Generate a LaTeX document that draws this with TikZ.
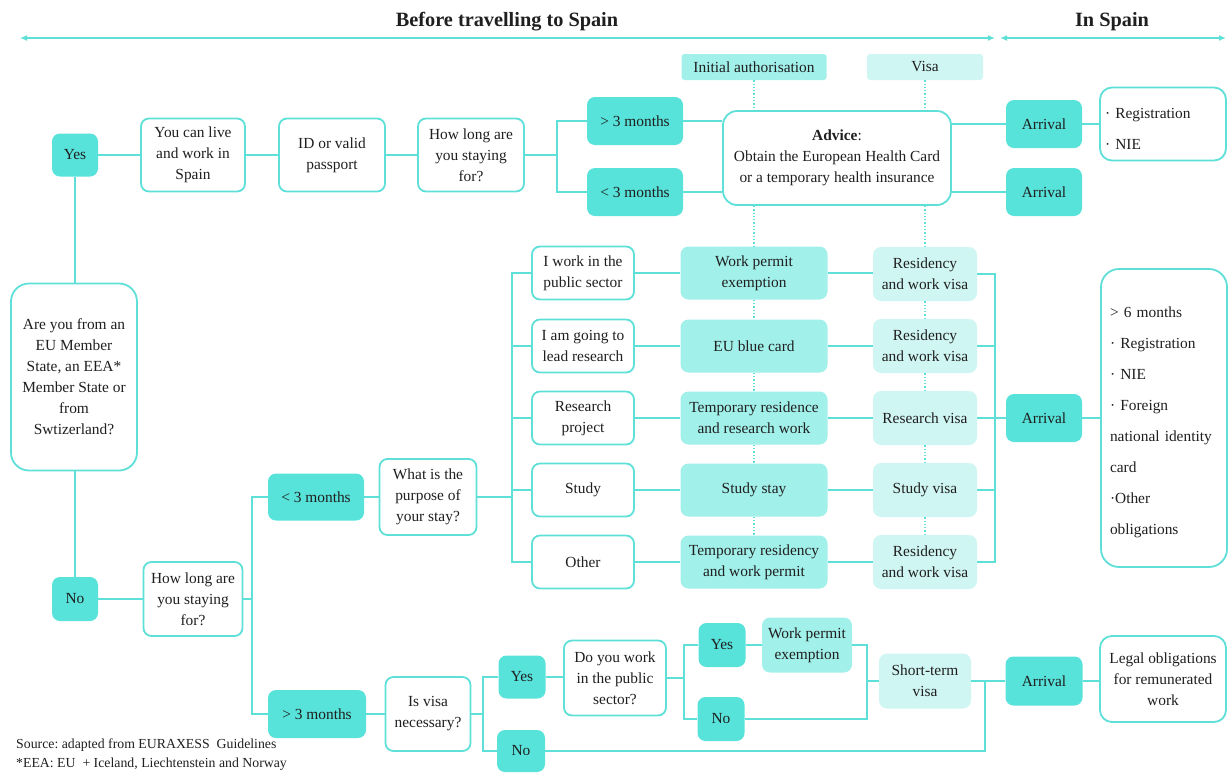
\documentclass[tikz,border=0pt]{standalone}
\usepackage{fontspec}
\setmainfont{Liberation Serif}
\usetikzlibrary{arrows.meta}
\definecolor{tdark}{RGB}{87,226,218}
\definecolor{tmed}{RGB}{162,240,234}
\definecolor{tlight}{RGB}{208,246,243}
\definecolor{tline}{RGB}{94,224,216}
\frenchspacing
\begin{document}
\begin{tikzpicture}[x=1pt,y=-1pt,
 base/.style={rectangle, rounded corners=8pt, align=center, inner sep=0pt, font=\fontsize{15.4}{21}\selectfont, text=black!88},
 wbox/.style={base, draw=tline, line width=1.8pt, fill=white},
 dbox/.style={base, fill=tdark},
 mbox/.style={base, fill=tmed},
 lbox/.style={base, fill=tlight},
 conn/.style={draw=tline, line width=1.8pt},
 dotl/.style={draw=tline, line width=1.3pt, dotted},
 sz/.style 2 args={minimum width=#1pt, minimum height=#2pt},
 hdr/.style={font=\bfseries\fontsize{20.3}{24}\selectfont, text=black!88},
 note/.style={anchor=west, font=\fontsize{13.8}{15}\selectfont, text=black!88, inner sep=0pt},
 tip/.style={{Latex[length=7pt,width=6pt]}-{Latex[length=7pt,width=6pt]}},
]
\useasboundingbox (0,0) rectangle (1228,772);

% headers
\node[hdr] (h1) at (507,22) {Before travelling to Spain};
\node[hdr] (h2) at (1112,22) {In Spain};
\coordinate (a1l) at (20,38);
\coordinate (a1r) at (995,38);
\coordinate (a2l) at (1000,38);
\coordinate (a2r) at (1226,38);
\draw[conn, tip] (a1l) -- (a1r);
\draw[conn, tip] (a2l) -- (a2r);

% top row
\node[dbox, sz={46}{43}] (yes) at (75,155) {Yes};
\node[wbox, sz={104}{73}] (live) at (193,155) {You can live\\and work in\\Spain};
\node[wbox, sz={106}{73}] (id) at (332,155) {ID or valid\\passport};
\node[wbox, sz={106}{73}] (how1) at (471,155) {How long are\\you staying\\for?};
\node[dbox, sz={96}{48}] (gt1) at (635,121) {> 3 months};
\node[dbox, sz={96}{48}] (lt1) at (635,192) {< 3 months};
\node[wbox, sz={228}{94}, rounded corners=14pt] (adv) at (837,158) {\textbf{Advice}:\\Obtain the European Health Card\\or a temporary health insurance};
\node[mbox, sz={145}{26}, rounded corners=3pt] (ia) at (754,67) {Initial authorisation};
\node[lbox, sz={116}{26}, rounded corners=3pt] (visa) at (925,67) {Visa};
\node[dbox, sz={76}{48}] (arr1) at (1044,124) {Arrival};
\node[dbox, sz={76}{48}] (arr2) at (1044,192) {Arrival};
\node[wbox, sz={126}{73}, rounded corners=12pt, text width=116pt, align=left, font=\fontsize{15.4}{31}\selectfont] (reg) at (1163,124) {\rule{0pt}{20pt}· Registration\\· NIE};

% left question
\node[wbox, sz={126}{187}, rounded corners=18pt] (q) at (74,377) {Are you from an\\EU Member\\State, an EEA*\\Member State or\\from\\Swtizerland?};
\node[dbox, sz={46}{44}] (no) at (75,599) {No};
\node[wbox, sz={99}{74}] (how2) at (193,599) {How long are\\you staying\\for?};
\node[dbox, sz={96}{47}] (lt2) at (316,497) {< 3 months};
\node[dbox, sz={98}{48}] (gt2) at (317,714) {> 3 months};
\node[wbox, sz={85}{74}] (visaq) at (428,714) {Is visa\\necessary?};
\node[wbox, sz={97}{76}] (purp) at (428,497) {What is the\\purpose of\\your stay?};

% middle block
\node[wbox, sz={102}{53}] (pub) at (583,273) {I work in the\\public sector};
\node[wbox, sz={102}{53}] (lead) at (583,346) {I am going to\\lead research};
\node[wbox, sz={102}{53}] (rp) at (583,418) {Research\\project};
\node[wbox, sz={102}{53}] (stu) at (583,490) {Study};
\node[wbox, sz={102}{53}] (oth) at (583,562) {Other};

\node[mbox, sz={147}{53}] (wpe) at (754,273) {Work permit\\exemption};
\node[mbox, sz={147}{53}] (blue) at (754,346) {EU blue card};
\node[mbox, sz={147}{53}] (trr) at (754,418) {Temporary residence\\and research work};
\node[mbox, sz={147}{53}] (sst) at (754,490) {Study stay};
\node[mbox, sz={147}{53}] (trw) at (754,562) {Temporary residency\\and work permit};

\node[lbox, sz={104}{54}] (rv1) at (925,274) {Residency\\and work visa};
\node[lbox, sz={104}{54}] (rv2) at (925,346) {Residency\\and work visa};
\node[lbox, sz={104}{54}] (rv3) at (925,418) {Research visa};
\node[lbox, sz={104}{54}] (rv4) at (925,490) {Study visa};
\node[lbox, sz={104}{54}] (rv5) at (925,562) {Residency\\and work visa};

\node[dbox, sz={76}{48}] (arr3) at (1044,418) {Arrival};
\node[wbox, sz={126}{298}, rounded corners=18pt, text width=108pt, align=left, font=\fontsize{15.4}{31}\selectfont] (big) at (1164,418) {\rule{0pt}{20pt}> 6 months\\· Registration\\· NIE\\· Foreign\\national identity\\card\\·Other\\obligations};

% bottom block
\node[dbox, sz={47}{43}] (yes2) at (522,677) {Yes};
\node[dbox, sz={48}{42}] (no2) at (521,751) {No};
\node[wbox, sz={102}{75}] (dowork) at (615,678) {Do you work\\in the public\\sector?};
\node[dbox, sz={47}{44}] (yes3) at (722,645) {Yes};
\node[mbox, sz={90}{55}] (wpe2) at (807,645) {Work permit\\exemption};
\node[dbox, sz={47}{44}] (no3) at (721,719) {No};
\node[lbox, sz={92}{55}] (stv) at (925,681) {Short-term\\visa};
\node[dbox, sz={77}{49}] (arr4) at (1044,681) {Arrival};
\node[wbox, sz={126}{86}, rounded corners=12pt] (legal) at (1163,679) {Legal obligations\\for remunerated\\work};

% notes
\node[note] (src) at (16,745) {Source: adapted from EURAXESS\ \ Guidelines};
\node[note] (eea) at (16,764) {*EEA: EU\ \ + Iceland, Liechtenstein and Norway};

% connectors top
\draw[conn] (yes.east) -- (live.west);
\draw[conn] (live.east) -- (id.west);
\draw[conn] (id.east) -- (how1.west);
\coordinate (b1) at (557,155);
\draw[conn] (how1.east) -- (b1);
\draw[conn] (b1) |- (gt1.west);
\draw[conn] (b1) |- (lt1.west);
\draw[conn] (gt1.east) -- (gt1.east -| adv.west);
\draw[conn] (lt1.east) -- (lt1.east -| adv.west);
\draw[conn] (arr1.west -| adv.east) -- (arr1.west);
\draw[conn] (arr2.west -| adv.east) -- (arr2.west);
\draw[conn] (arr1.east) -- (reg.west |- arr1.east);

% left
\draw[conn] (yes.south) -- (q.north -| yes.south);
\draw[conn] (q.south -| no.north) -- (no.north);
\draw[conn] (no.east) -- (how2.west);
\coordinate (b3) at (252,599);
\draw[conn] (how2.east) -- (b3);
\draw[conn] (b3) |- (lt2.west);
\draw[conn] (b3) |- (gt2.west);
\draw[conn] (lt2.east) -- (purp.west);
\coordinate (b4) at (512,497);
\draw[conn] (purp.east) -- (b4);
\draw[conn] (b4) |- (pub.west);
\draw[conn] (b4) |- (oth.west);
\draw[conn] (lead.west -| b4) -- (lead.west);
\draw[conn] (rp.west -| b4) -- (rp.west);
\draw[conn] (stu.west -| b4) -- (stu.west);

% middle rows
\draw[conn] (pub.east) -- (wpe.west);
\draw[conn] (lead.east) -- (blue.west);
\draw[conn] (rp.east) -- (trr.west);
\draw[conn] (stu.east) -- (sst.west);
\draw[conn] (oth.east) -- (trw.west);
\draw[conn] (wpe.east) -- (wpe.east -| rv1.west);
\draw[conn] (blue.east) -- (rv2.west);
\draw[conn] (trr.east) -- (rv3.west);
\draw[conn] (sst.east) -- (rv4.west);
\draw[conn] (trw.east) -- (rv5.west);
\coordinate (b7) at (995,418);
\draw[conn] (rv1.east) -| (b7);
\draw[conn] (rv5.east) -| (b7);
\draw[conn] (rv2.east) -- (rv2.east -| b7);
\draw[conn] (rv4.east) -- (rv4.east -| b7);
\draw[conn] (rv3.east) -- (arr3.west);
\draw[conn] (arr3.east) -- (big.west |- arr3.east);

% dotted columns
\draw[dotl] (ia.south) -- (ia.south |- adv.north);
\draw[dotl] (ia.south |- adv.south) -- (wpe.north);
\draw[dotl] (wpe.south) -- (blue.north);
\draw[dotl] (blue.south) -- (trr.north);
\draw[dotl] (trr.south) -- (sst.north);
\draw[dotl] (sst.south) -- (trw.north);
\draw[dotl] (visa.south) -- (visa.south |- adv.north);
\draw[dotl] (visa.south |- adv.south) -- (rv1.north);
\draw[dotl] (rv1.south) -- (rv2.north);
\draw[dotl] (rv2.south) -- (rv3.north);
\draw[dotl] (rv3.south) -- (rv4.north);
\draw[dotl] (rv4.south) -- (rv5.north);

% bottom connectors
\draw[conn] (gt2.east) -- (visaq.west);
\coordinate (b5) at (483,714);
\draw[conn] (visaq.east) -- (b5);
\draw[conn] (b5) |- (yes2.west);
\draw[conn] (b5) |- (no2.west);
\draw[conn] (yes2.east) -- (dowork.west |- yes2.east);
\coordinate (b6) at (684,678);
\draw[conn] (dowork.east) -- (b6);
\draw[conn] (b6) |- (yes3.west);
\draw[conn] (b6) |- (no3.west);
\draw[conn] (yes3.east) -- (wpe2.west);
\coordinate (j6) at (867,681);
\draw[conn] (wpe2.east) -| (j6);
\draw[conn] (no3.east) -| (j6);
\draw[conn] (j6) -- (stv.west);
\draw[conn] (stv.east) -- (arr4.west);
\coordinate (j4) at (985,681);
\draw[conn] (no2.east) -| (j4);
\draw[conn] (arr4.east) -- (legal.west |- arr4.east);
\end{tikzpicture}
\end{document}
